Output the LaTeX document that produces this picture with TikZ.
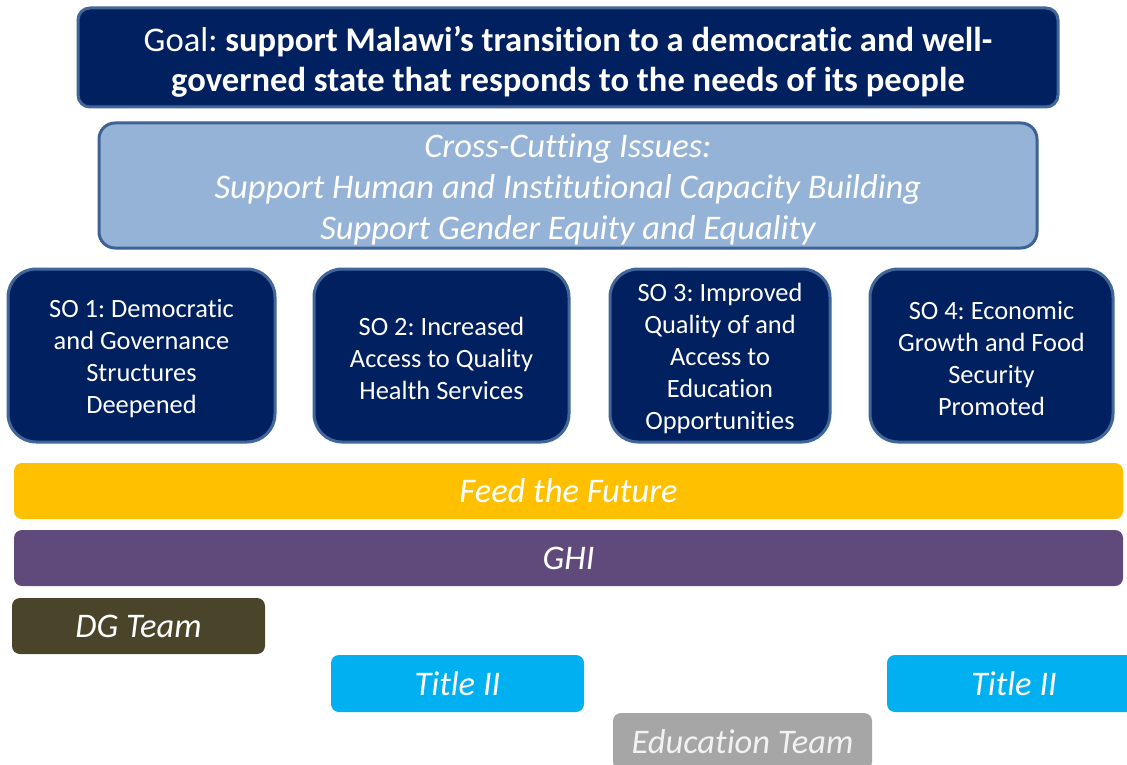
\documentclass[tikz,border=0pt]{standalone}
\usepackage{fontspec}
\setmainfont[Ligatures=NoCommon]{Carlito}
\definecolor{navy}{HTML}{002060}
\definecolor{navyedge}{HTML}{41679A}
\definecolor{lightblue}{HTML}{95B3D7}
\definecolor{lbedge}{HTML}{3D6293}
\definecolor{ftf}{HTML}{FFC000}
\definecolor{ghi}{HTML}{604A7B}
\definecolor{dg}{HTML}{4A452A}
\definecolor{titleii}{HTML}{00B0F0}
\definecolor{edu}{HTML}{A6A6A6}
\tikzset{
  box/.style={inner sep=0pt, align=center, text=white},
  txt/.style={inner sep=0pt, align=center, text=white},
  bigbox/.style={box, draw=navyedge, line width=3pt, fill=navy, rounded corners=12pt},
  ccbox/.style={box, draw=lbedge, line width=3pt, fill=lightblue, rounded corners=16pt},
  sobox/.style={box, draw=navyedge, line width=3pt, fill=navy, rounded corners=28pt},
  sotext/.style={txt, font=\fontsize{26.4}{32}\selectfont},
  bar/.style={box, rounded corners=8pt, font=\fontsize{34.5}{40}\selectfont\itshape}
}
\begin{document}
\frenchspacing
\begin{tikzpicture}[x=1pt,y=-1pt]
\useasboundingbox (0,0) rectangle (1127,765);
\clip (0,0) rectangle (1127,765);
\node[bigbox, minimum width=980pt, minimum height=99pt] (goal) at (568,57.5) {};
\node[txt, font=\fontsize{34.6}{40}\selectfont] (goaltext) at ([yshift=-4pt]goal.center)
  {Goal: \textbf{support Malawi’s transition to a democratic and well-}\\\textbf{governed state that responds to the needs of its people}};
\node[ccbox, minimum width=938pt, minimum height=125pt] (cc) at (568,185.5) {};
\node[txt, font=\fontsize{34.5}{41}\selectfont\itshape] (cctext) at ([yshift=-4pt]cc.center)
  {Cross-Cutting Issues:\\Support Human and Institutional Capacity Building\\Support Gender Equity and Equality};
\node[sobox, minimum width=267pt, minimum height=173pt] (so1) at (141.5,355.5) {};
\node[sotext] (so1t) at ([yshift=-3pt]so1.center) {SO 1: Democratic\\and Governance\\Structures\\Deepened};
\node[sobox, minimum width=255pt, minimum height=173pt] (so2) at (441.5,355.5) {};
\node[sotext] (so2t) at ([yshift=-3pt]so2.center) {SO 2: Increased\\Access to Quality\\Health Services};
\node[sobox, minimum width=220pt, minimum height=173pt] (so3) at (720,355.5) {};
\node[sotext] (so3t) at ([yshift=-3pt]so3.center) {SO 3: Improved\\Quality of and\\Access to\\Education\\Opportunities};
\node[sobox, minimum width=243pt, minimum height=173pt] (so4) at (991.5,355.5) {};
\node[sotext] (so4t) at ([yshift=-3pt]so4.center) {SO 4: Economic\\Growth and Food\\Security\\Promoted};
\node[bar, fill=ftf, minimum width=1109pt, minimum height=56pt] (ftf) at (568.5,491) {Feed the Future};
\node[bar, fill=ghi, minimum width=1109pt, minimum height=56pt] (ghi) at (568.5,558) {GHI};
\node[bar, fill=dg, minimum width=253pt, minimum height=56pt] (dg) at (138.5,626) {DG Team};
\node[bar, fill=titleii, minimum width=253pt, minimum height=57pt] (t2a) at (457.5,683.5) {Title II};
\node[bar, fill=titleii, minimum width=254pt, minimum height=57pt] (t2b) at (1014,683.5) {Title II};
\node[bar, fill=edu, text=white!95!black, minimum width=259pt, minimum height=57pt] (edu) at (742.5,741.5) {Education Team};
\end{tikzpicture}
\end{document}
